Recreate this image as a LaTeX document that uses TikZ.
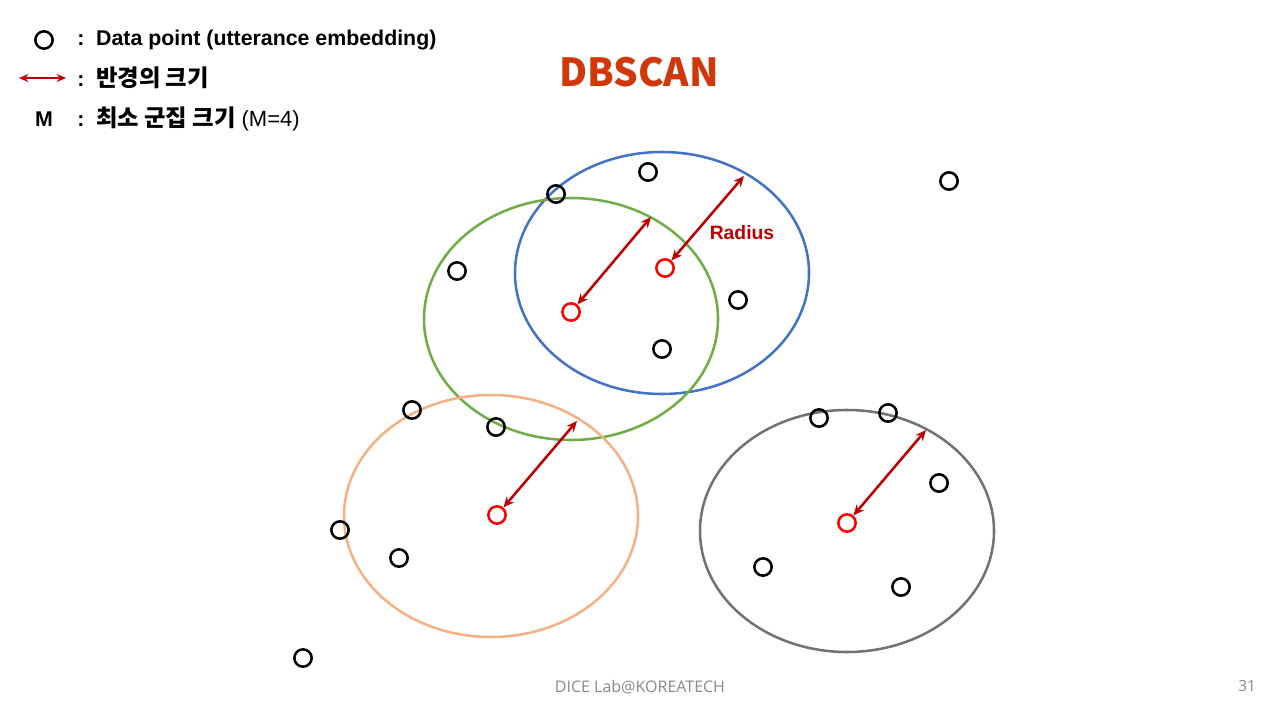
\documentclass[tikz,border=0pt]{standalone}
\usepackage{fontspec}
\setmainfont{Liberation Sans}
\newfontfamily\kr{Noto Sans CJK KR}
\newfontfamily\foot{Open Sans}
\usetikzlibrary{arrows.meta}
\definecolor{titlec}{RGB}{208,56,10}
\definecolor{arrc}{RGB}{192,0,0}
\definecolor{bluec}{RGB}{68,114,196}
\definecolor{greenc}{RGB}{112,173,71}
\definecolor{orangec}{RGB}{244,177,131}
\definecolor{grayc}{RGB}{118,113,113}
\definecolor{footc}{RGB}{137,137,137}
\tikzset{
  pt/.style={draw=black,circle,line width=1.9pt,minimum size=13pt,inner sep=0pt},
  core/.style={draw=red,circle,line width=1.9pt,minimum size=13pt,inner sep=0pt},
  rad/.style={draw=arrc,line width=1.9pt,{Stealth[length=8pt,width=7pt]}-{Stealth[length=8pt,width=7pt]}},
  clus/.style={line width=1.9pt},
  leg/.style={anchor=west,inner sep=0pt,font=\fontsize{16}{19}\selectfont\bfseries},
}
\newcommand{\krb}[1]{{\kr\bfseries\fontsize{17.5}{19}\selectfont #1}}
\begin{document}
\begin{tikzpicture}[x=0.75pt,y=-0.75pt]
\useasboundingbox (0,0) rectangle (1280,720);
% clusters
\draw[clus,draw=bluec] (662,273) ellipse [x radius=147,y radius=121];
\draw[clus,draw=greenc] (571,319) ellipse [x radius=147,y radius=121];
\draw[clus,draw=orangec] (491,516) ellipse [x radius=147,y radius=121];
\draw[clus,draw=grayc] (847,531) ellipse [x radius=147,y radius=121];
% black points
\node[pt] (p1) at (556,194) {};
\node[pt] (p2) at (648,172) {};
\node[pt] (p3) at (949,181) {};
\node[pt] (p4) at (457,271) {};
\node[pt] (p5) at (738,300) {};
\node[pt] (p6) at (662,349) {};
\node[pt] (p7) at (412,410) {};
\node[pt] (p8) at (496,427) {};
\node[pt] (p9) at (340,530) {};
\node[pt] (p10) at (399,558) {};
\node[pt] (p11) at (303,658) {};
\node[pt] (p12) at (819,418) {};
\node[pt] (p13) at (888,413) {};
\node[pt] (p14) at (939,483) {};
\node[pt] (p15) at (763,567) {};
\node[pt] (p16) at (901,587) {};
% core points
\node[core] (c1) at (665,268) {};
\node[core] (c2) at (571,312) {};
\node[core] (c3) at (497,515) {};
\node[core] (c4) at (847,523) {};
% radius ends
\coordinate (e1) at (744,176);
\coordinate (e2) at (651,217);
\coordinate (e3) at (577,421);
\coordinate (e4) at (926,430);
\draw[rad] (c1) -- (e1);
\draw[rad] (c2) -- (e2);
\draw[rad] (c3) -- (e3);
\draw[rad] (c4) -- (e4);
\node[text=arrc,font=\fontsize{14.5}{17}\selectfont\bfseries] (rl) at (742,233) {Radius};
% title
\node[text=titlec,font=\kr\fontsize{29}{34}\selectfont\bfseries] (title) at (639,72) {DBSCAN};
% legend
\node[draw=black,circle,line width=1.9pt,minimum size=13pt,inner sep=0pt] (lpt) at (44,40) {};
\node[leg] (l1) at (77,40) {:\ \ Data point (utterance embedding)};
\coordinate (la) at (19,78);
\coordinate (lb) at (66,78);
\draw[draw=arrc,line width=1.6pt,{Stealth[length=7pt,width=6pt]}-{Stealth[length=7pt,width=6pt]}] (la) -- (lb);
\node[leg] (l2) at (77,78) {:\ \ \krb{반경의 크기}};
\node[leg,anchor=center] (lm) at (44,119) {M};
\node[leg] (l3) at (77,119) {:\ \ \krb{최소 군집 크기} {\mdseries\fontsize{16.5}{19}\selectfont (M=4)}};
% footer
\node[text=footc,font=\foot\fontsize{12}{14}\selectfont] (ft) at (640,687) {DICE\ Lab@KOREATECH};
\node[text=footc,font=\foot\fontsize{11.5}{14}\selectfont] (pg) at (1247,686) {31};
\end{tikzpicture}
\end{document}
